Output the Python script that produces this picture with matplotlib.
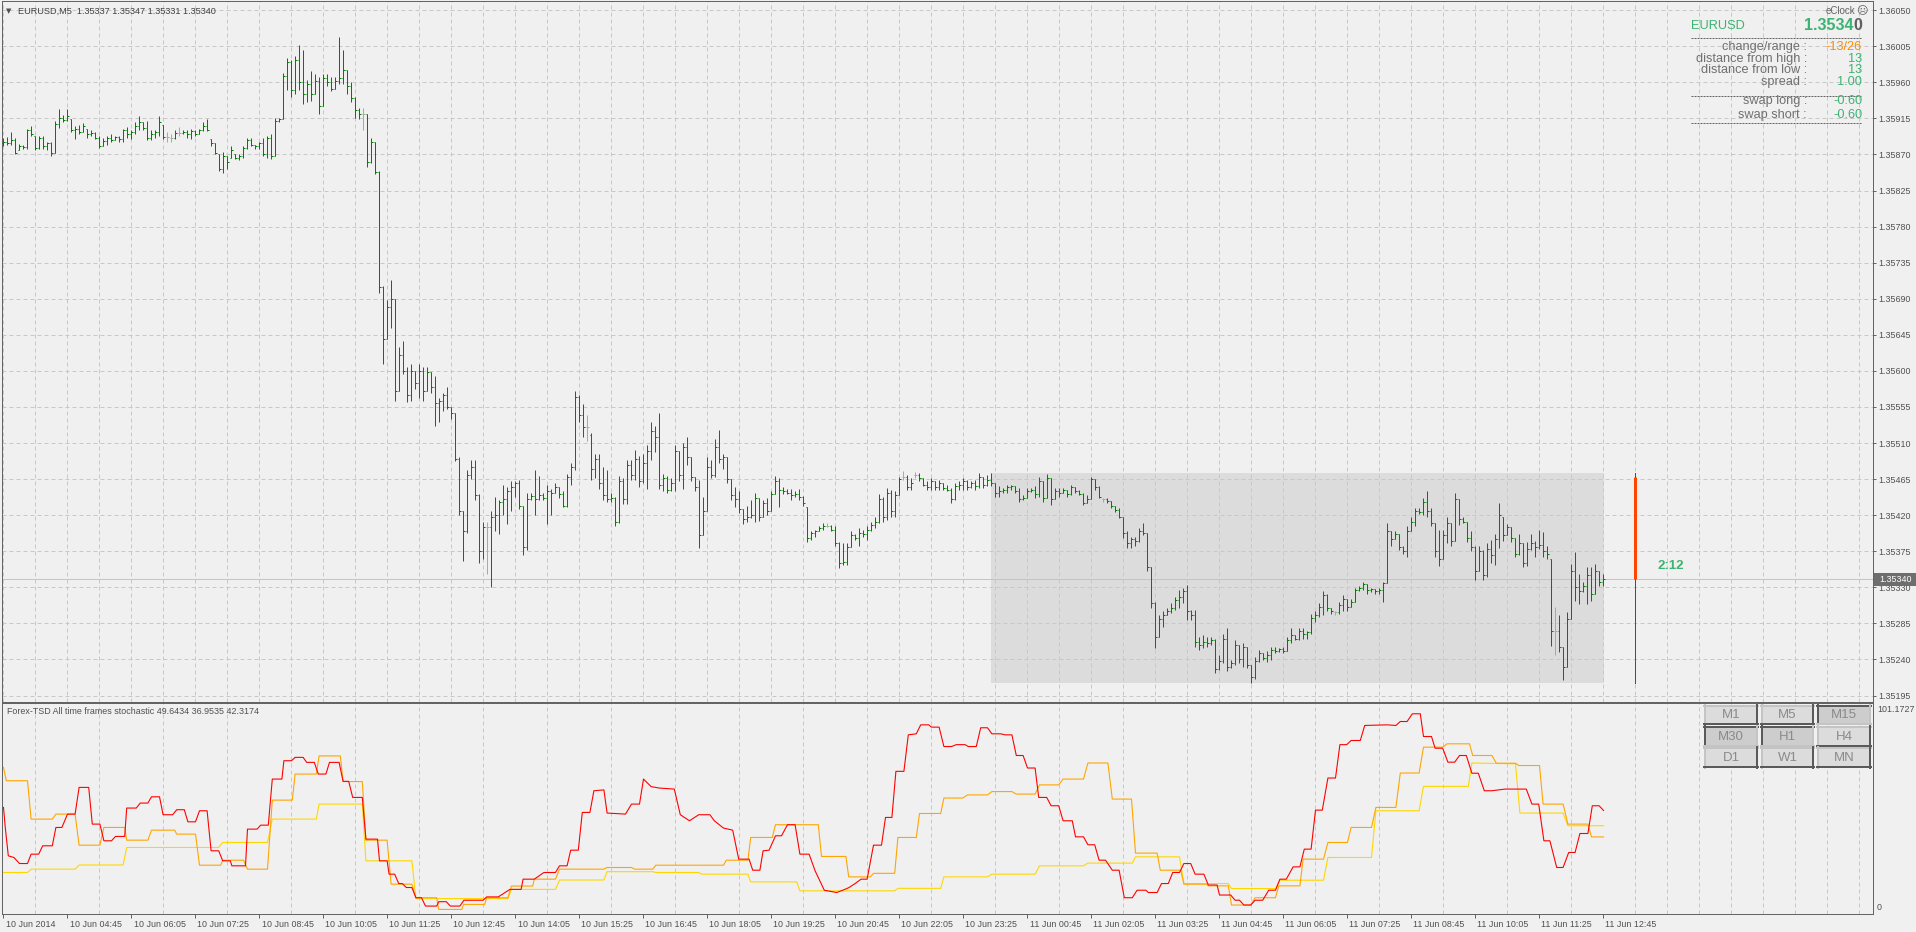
import numpy as np
import matplotlib
matplotlib.use("Agg")
import matplotlib.pyplot as plt
from matplotlib.collections import LineCollection
from matplotlib.patches import Rectangle
from matplotlib.lines import Line2D
import matplotlib.transforms as mtransforms

plt.rcParams['font.family'] = ['Liberation Sans', 'DejaVu Sans']

# ---------------- data ----------------
symbol = "EURUSD,M5"
BASE = 1.35          # prices below are in points above 1.35000
PT = 0.00001

bar_high = [
 891, 892, 898, 891, 883, 882, 902, 906, 893, 893,
 893, 886, 886, 912, 927, 919, 927, 914, 905, 907,
 909, 902, 901, 898, 893, 890, 893, 896, 893, 893,
 902, 904, 900, 910, 918, 910, 912, 900, 901, 918,
 907, 898, 895, 900, 904, 900, 900, 902, 900, 902,
 910, 914, 889, 884, 870, 873, 868, 880, 870, 870,
 880, 891, 891, 882, 886, 891, 893, 896, 915, 916,
 972, 990, 988, 993, 1006, 1000, 963, 974, 970, 967,
 970, 970, 967, 967, 1016, 1000, 975, 960, 942, 928,
 928, 920, 891, 885, 849, 706, 688, 713, 690, 630,
 637, 605, 609, 600, 609, 605, 605, 598, 593, 566,
 573, 580, 555, 548, 492, 425, 476, 489, 489, 446,
 411, 411, 425, 443, 439, 457, 455, 462, 462, 464,
 432, 448, 448, 476, 469, 448, 457, 453, 460, 455,
 450, 471, 485, 575, 570, 559, 545, 522, 496, 496,
 480, 476, 448, 443, 469, 466, 489, 489, 501, 494,
 496, 508, 536, 531, 547, 471, 469, 466, 508, 500,
 510, 517, 492, 468, 464, 443, 492, 489, 515, 526,
 496, 492, 465, 455, 450, 428, 432, 439, 448, 442,
 439, 441, 450, 469, 466, 455, 453, 453, 450, 453,
 444, 430, 400, 402, 406, 410, 410, 408, 406, 387,
 385, 385, 400, 397, 404, 402, 406, 412, 418, 447,
 443, 454, 452, 450, 468, 475, 470, 466, 474, 472,
 466, 462, 466, 462, 464, 460, 458, 454, 460, 462,
 466, 464, 462, 464, 472, 468, 470, 472, 460, 456,
 454, 458, 458, 456, 454, 445, 454, 454, 456, 468,
 462, 471, 466, 454, 454, 454, 452, 458, 455, 452,
 448, 445, 468, 465, 456, 441, 441, 438, 432, 429,
 418, 400, 393, 393, 404, 410, 398, 355, 312, 295,
 300, 304, 310, 318, 327, 329, 333, 302, 302, 268,
 270, 268, 268, 266, 245, 272, 279, 239, 264, 258,
 260, 256, 233, 243, 252, 248, 250, 256, 256, 254,
 256, 268, 279, 270, 279, 279, 275, 297, 300, 310,
 325, 322, 304, 301, 312, 320, 316, 316, 329, 331,
 337, 334, 329, 328, 329, 337, 410, 400, 400, 396,
 381, 406, 418, 429, 429, 441, 450, 429, 410, 402,
 402, 418, 410, 448, 440, 418, 412, 400, 381, 381,
 377, 385, 389, 397, 435, 418, 409, 405, 392, 397,
 385, 386, 397, 388, 401, 399, 382, 365, 305, 295,
 255, 299, 359, 374, 347, 336, 355, 355, 359, 350, 347]

bar_low = [
 880, 882, 882, 870, 875, 877, 877, 893, 875, 877,
 877, 875, 868, 872, 903, 910, 912, 898, 889, 896,
 898, 891, 893, 889, 878, 880, 882, 886, 888, 886,
 886, 891, 889, 896, 901, 900, 888, 888, 890, 893,
 889, 885, 885, 889, 893, 896, 891, 889, 893, 896,
 899, 899, 880, 870, 849, 847, 852, 866, 864, 863,
 866, 877, 880, 877, 877, 868, 866, 864, 868, 911,
 914, 951, 942, 946, 951, 933, 935, 937, 945, 921,
 930, 956, 949, 952, 958, 958, 946, 935, 916, 914,
 900, 854, 859, 845, 697, 609, 640, 653, 563, 575,
 596, 561, 563, 577, 566, 563, 575, 573, 531, 536,
 550, 552, 540, 487, 420, 363, 398, 465, 439, 360,
 365, 346, 330, 400, 397, 420, 409, 425, 443, 428,
 370, 376, 439, 420, 439, 439, 409, 420, 448, 441,
 430, 430, 457, 476, 536, 517, 513, 464, 466, 453,
 439, 436, 436, 406, 410, 434, 434, 464, 464, 455,
 460, 453, 489, 499, 453, 450, 448, 450, 450, 462,
 453, 483, 462, 450, 379, 395, 425, 466, 468, 485,
 478, 460, 439, 430, 423, 409, 411, 416, 411, 413,
 418, 420, 425, 446, 430, 446, 446, 439, 443, 439,
 431, 387, 389, 393, 400, 402, 405, 400, 381, 354,
 358, 358, 380, 389, 381, 393, 389, 400, 404, 410,
 412, 414, 418, 418, 445, 464, 452, 452, 466, 462,
 456, 452, 452, 452, 452, 452, 450, 435, 439, 452,
 452, 452, 454, 452, 454, 454, 456, 456, 443, 443,
 448, 448, 452, 448, 437, 439, 441, 449, 441, 443,
 437, 442, 433, 440, 443, 448, 443, 445, 448, 445,
 433, 435, 440, 452, 441, 437, 435, 429, 424, 416,
 391, 379, 379, 381, 387, 395, 350, 304, 254, 268,
 281, 296, 298, 302, 304, 310, 289, 289, 256, 252,
 254, 256, 258, 223, 227, 236, 225, 229, 233, 235,
 231, 229, 210, 216, 237, 239, 237, 239, 248, 249,
 248, 251, 260, 264, 264, 266, 266, 272, 287, 293,
 296, 300, 297, 295, 297, 300, 300, 305, 312, 325,
 327, 322, 324, 322, 322, 312, 335, 381, 390, 377,
 372, 368, 400, 406, 422, 420, 418, 406, 368, 356,
 365, 385, 381, 388, 408, 410, 387, 375, 339, 350,
 339, 343, 360, 358, 379, 388, 395, 386, 368, 370,
 355, 357, 376, 368, 378, 368, 365, 257, 245, 249,
 214, 230, 290, 313, 309, 324, 309, 313, 322, 332, 331]

bar_open = [
 884, 886, 884, 888, 875, 880, 879, 900, 893, 878,
 890, 880, 884, 872, 908, 915, 913, 914, 900, 902,
 898, 902, 895, 897, 891, 880, 887, 890, 888, 892,
 889, 900, 895, 898, 906, 910, 903, 890, 896, 898,
 907, 892, 890, 890, 897, 897, 898, 895, 899, 896,
 900, 906, 889, 884, 870, 852, 868, 866, 870, 866,
 868, 878, 888, 882, 880, 884, 870, 890, 868, 912,
 914, 968, 985, 950, 988, 960, 945, 958, 945, 962,
 930, 965, 960, 952, 962, 965, 975, 955, 940, 925,
 920, 920, 860, 885, 848, 705, 640, 680, 690, 575,
 620, 600, 570, 600, 585, 600, 575, 598, 580, 560,
 562, 570, 555, 548, 490, 425, 400, 470, 480, 445,
 375, 405, 405, 418, 420, 436, 440, 450, 455, 460,
 432, 380, 440, 444, 440, 445, 442, 450, 448, 455,
 446, 432, 468, 480, 568, 545, 530, 520, 478, 490,
 460, 445, 440, 442, 412, 462, 440, 482, 470, 490,
 462, 485, 500, 525, 518, 458, 466, 452, 460, 500,
 470, 505, 492, 468, 455, 395, 425, 480, 470, 505,
 490, 492, 465, 445, 440, 428, 415, 418, 420, 442,
 418, 435, 425, 446, 462, 452, 450, 448, 445, 447,
 443, 430, 392, 398, 400, 404, 407, 407, 402, 385,
 360, 362, 380, 395, 392, 398, 396, 402, 408, 412,
 440, 418, 448, 425, 445, 468, 468, 455, 470, 470,
 466, 458, 455, 462, 455, 460, 454, 452, 440, 456,
 458, 463, 455, 460, 456, 468, 458, 464, 460, 448,
 450, 452, 455, 456, 450, 440, 442, 450, 452, 446,
 462, 442, 466, 440, 450, 448, 452, 446, 455, 450,
 447, 435, 440, 465, 455, 440, 440, 438, 432, 427,
 418, 398, 385, 390, 388, 400, 398, 355, 310, 268,
 290, 296, 300, 304, 314, 318, 325, 300, 295, 262,
 258, 262, 260, 264, 228, 238, 265, 230, 236, 258,
 240, 255, 233, 218, 238, 248, 242, 246, 252, 250,
 253, 251, 264, 270, 266, 275, 272, 274, 292, 296,
 305, 320, 304, 299, 299, 308, 316, 305, 312, 327,
 329, 334, 326, 328, 325, 327, 335, 400, 390, 396,
 380, 375, 400, 412, 425, 424, 436, 425, 410, 375,
 365, 395, 410, 388, 440, 415, 412, 392, 380, 350,
 375, 345, 378, 370, 390, 418, 395, 405, 392, 372,
 385, 360, 378, 385, 380, 383, 375, 365, 275, 275,
 255, 230, 290, 350, 330, 325, 332, 345, 322, 350, 337]

bar_close = [
 886, 884, 888, 872, 880, 879, 900, 896, 878, 890,
 880, 884, 872, 908, 915, 913, 918, 900, 902, 898,
 905, 895, 897, 891, 880, 887, 890, 888, 892, 889,
 900, 895, 898, 906, 910, 903, 890, 896, 898, 910,
 892, 892, 890, 897, 897, 898, 895, 899, 896, 900,
 906, 900, 884, 872, 852, 868, 860, 875, 866, 868,
 878, 888, 882, 880, 884, 870, 890, 868, 912, 914,
 968, 985, 950, 988, 960, 945, 958, 945, 962, 930,
 965, 960, 952, 962, 965, 975, 955, 940, 925, 920,
 920, 860, 885, 848, 705, 640, 680, 690, 575, 620,
 600, 570, 600, 585, 600, 575, 598, 580, 560, 562,
 570, 555, 548, 490, 425, 400, 470, 480, 445, 375,
 405, 405, 418, 420, 436, 440, 450, 455, 460, 432,
 380, 440, 444, 440, 445, 442, 450, 448, 455, 446,
 432, 468, 480, 568, 545, 530, 530, 478, 490, 460,
 445, 440, 442, 412, 462, 440, 482, 470, 490, 462,
 485, 500, 525, 518, 458, 466, 452, 460, 500, 470,
 505, 492, 468, 455, 395, 425, 480, 470, 505, 490,
 492, 465, 445, 440, 428, 415, 418, 420, 442, 418,
 435, 425, 446, 462, 452, 450, 448, 445, 447, 443,
 435, 392, 398, 400, 404, 407, 407, 402, 385, 360,
 362, 380, 395, 392, 398, 396, 402, 408, 412, 440,
 418, 448, 425, 445, 465, 468, 455, 460, 470, 466,
 458, 455, 462, 455, 460, 454, 452, 440, 456, 458,
 463, 455, 460, 456, 468, 458, 464, 460, 448, 450,
 452, 455, 456, 450, 440, 442, 450, 452, 446, 462,
 442, 466, 440, 450, 448, 452, 446, 455, 450, 447,
 435, 440, 465, 455, 443, 440, 438, 432, 427, 418,
 398, 385, 390, 388, 400, 398, 355, 310, 268, 290,
 296, 300, 304, 314, 318, 325, 300, 295, 262, 258,
 262, 260, 264, 228, 238, 265, 230, 236, 258, 240,
 255, 233, 218, 238, 248, 242, 246, 252, 250, 253,
 251, 264, 270, 266, 275, 272, 274, 292, 296, 305,
 320, 304, 300, 299, 308, 316, 305, 312, 327, 329,
 334, 326, 328, 325, 327, 335, 400, 390, 396, 380,
 375, 400, 412, 425, 424, 436, 425, 410, 375, 365,
 395, 410, 388, 440, 415, 412, 392, 380, 350, 375,
 345, 378, 370, 390, 420, 395, 405, 392, 372, 385,
 360, 378, 385, 380, 383, 375, 372, 275, 275, 255,
 230, 290, 350, 330, 325, 332, 345, 322, 350, 337, 340]

# price-axis tick labels
price_ticks = [1.35195, 1.35240, 1.35285, 1.35330, 1.35375, 1.35420, 1.35465,
               1.35510, 1.35555, 1.35600, 1.35645, 1.35690, 1.35735, 1.35780,
               1.35825, 1.35870, 1.35915, 1.35960, 1.36005, 1.36050]
# time-axis labels (every 16 bars)
time_labels = ['10 Jun 2014', '10 Jun 04:45', '10 Jun 06:05', '10 Jun 07:25',
               '10 Jun 08:45', '10 Jun 10:05', '10 Jun 11:25', '10 Jun 12:45',
               '10 Jun 14:05', '10 Jun 15:25', '10 Jun 16:45', '10 Jun 18:05',
               '10 Jun 19:25', '10 Jun 20:45', '10 Jun 22:05', '10 Jun 23:25',
               '11 Jun 00:45', '11 Jun 02:05', '11 Jun 03:25', '11 Jun 04:45',
               '11 Jun 06:05', '11 Jun 07:25', '11 Jun 08:45', '11 Jun 10:05',
               '11 Jun 11:25', '11 Jun 12:45']

bid_price = 1.35340
range_box = (247, 400, 1.35210, 1.35472)   # first bar, last bar, low, high
clock_bar = (408, 1.35210, 1.35472, 1.35340, 1.35468)
clock_text = "2:12"

# stochastic lines (bar index, value)
stoch_red = [
 (0,51.1),(0.4,42.3),(1.2,27.9),(2.6,27.1),(4,24.2),(6,24.2),(6.9,28.7),(8.8,28.7),(9.8,32.7),(12.2,32.7),
 (13.1,41.5),(14.6,41.5),(16,47.9),(17.9,47.9),(18.9,60.7),(21.3,60.7),(22.2,43.1),(24.1,43.1),(25.1,35.1),(27,35.1),
 (28,37.2),(30.3,37.2),(30.8,50.8),(33.2,50.8),(34.2,53.2),(36.1,53.2),(37,56.2),(39,56.2),(39.9,47.6),(42.3,47.6),
 (43.3,50),(45.2,50),(46.1,44.2),(48,44.2),(49,49.5),(50.9,49.5),(51.9,30.3),(53.8,30.3),(54.8,25.5),(56.7,25.5),
 (57.1,23.1),(60.5,23.1),(61,40.7),(63.4,40.7),(64.3,42.6),(66.2,42.6),(67.2,64.7),(69.6,64.7),(70.1,73.5),(72,73.5),
 (72.9,75.1),(74.9,75.1),(75.8,72.7),(77.7,72.7),(78.7,67.1),(80.6,67.1),(81.5,72.7),(83.9,72.7),(84.9,63.6),(86.3,63.6),
 (87.3,55.9),(89.7,55.9),(90.6,35.9),(93.5,35.9),(94,25.5),(95.9,25.5),(96.4,19.1),(97.8,19.1),(98.8,14.6),(99.7,14.6),
 (100.7,12.7),(102.1,12.7),(103.1,7.8),(104.5,7.8),(105.5,3.8),(108.3,3.8),(108.8,5.9),(110.7,5.9),(111.7,3.8),(114.1,3.8),
 (115.1,6.6),(119.9,6.6),(120.8,8.2),(123.7,8.2),(126.6,11.8),(129.4,11.8),(129.9,16.7),(132.7,16.7),(135.1,19.9),(138,19.9),
 (139,23.1),(140.9,23.1),(141.8,30.6),(143.7,30.6),(144.7,48.7),(146.6,48.7),(147.6,59.1),(150.1,59.5),(150.9,48.4),(155.5,47.9),
 (157,52.7),(159,52.7),(160,64.7),(161.9,61.1),(163.9,60.4),(167.7,59.9),(169.2,47.6),(171.5,44.7),(173.8,47.6),(176.6,47.6),
 (177.7,44.7),(180,41.2),(182.3,40.2),(183.8,26.3),(186.4,26.3),(187.3,21),(189.1,21),(189.9,30.3),(191.4,30.6),(193,37.5),
 (194.5,37.5),(196,42.8),(197.9,42.8),(199.1,28.7),(201.4,28.7),(202.9,20.7),(205.2,11.4),(208.3,10.3),(209.8,11.4),(211.3,12.6),
 (212.9,14.6),(214.4,16.7),(215.9,16.7),(217.5,33),(219.5,33),(220.5,46.3),(222.1,46.3),(223.1,68.4),(225.1,68.4),(226.2,85.9),
 (228.2,86.4),(229.3,90.7),(231.3,90.7),(232,89.6),(233.9,89.6),(235.1,80.3),(237,80.3),(238.2,81.2),(240.4,81.2),(241.2,80.3),
 (243.2,80.3),(244.3,89.3),(246,89.3),(247.1,86.4),(249.3,86.4),(250.4,85.9),(252.1,85.9),(253.2,76),(254.9,76),(256,70),
 (257.9,70),(258.8,55.9),(260.8,55.9),(261.9,51.9),(263.8,51.9),(264.9,44.7),(267.2,44.7),(268,37),(270,37),(271.1,33.2),
 (272.8,33.2),(273.9,25.8),(275.5,25.8),(277.2,21),(278.9,21),(280.2,7.8),(282.2,7.8),(283.4,11.4),(285.6,11.4),(286.2,10.3),
 (288.4,10.3),(289.5,14.6),(291.2,14.6),(292.3,19.9),(294,19.9),(295.1,24.2),(296.8,24.2),(297.9,19.1),(300.1,19.1),(301.2,13.9),
 (303.4,13.9),(304,9.1),(306.8,9.1),(307.9,6.6),(309,6.6),(310.1,4.3),(311.8,4.3),(312.9,6.6),(314.8,6.6),(316.3,11.4),
 (318,11.4),(319.1,16.7),(320.7,16.7),(322.4,22.6),(324.1,22.6),(325.2,31.1),(326.9,31.1),(328,49.8),(329.7,49.8),(331.1,65.2),
 (333,65.2),(334.1,81.2),(335.8,81.2),(336.9,83.2),(339.2,83.2),(340.3,90.4),(345.9,90.7),(348.1,90.4),(349.2,92.3),(350.9,92.3),
 (352.2,96),(354.2,96),(355,85.1),(357,85.1),(357.9,79.5),(359.8,79.5),(361.1,72.8),(362.8,72.8),(364,76),(365.7,76),
 (367.1,67.5),(368.7,67.5),(370.2,59.1),(372.1,59.1),(375.4,59.9),(380.7,59.9),(382.1,52.7),(383.8,52.7),(385.1,35.1),(386.6,35.1),
 (388.3,22.3),(389.9,22.3),(391.3,29.5),(392.9,29.5),(394.1,38.6),(396.1,38.6),(397.2,51.9),(398.9,51.9),(400,49.6434)]

stoch_orange = [
 (0,70.3),(0.7,63.9),(6,63.9),(6.9,45.5),(12.2,45.5),(13.1,47.9),(17.9,47.9),(18.9,33),(24.1,33),(25.1,41.5),
 (30.3,41.5),(30.8,35.4),(36.1,35.4),(37,40.2),(42.8,40.2),(43.3,38.3),(48,38.3),(49,23.4),(54.3,23.4),(54.8,25.8),
 (60,25.8),(61,21.5),(66,21.5),(67.2,54.6),(72.2,54.6),(72.9,67.1),(78.2,67.1),(78.9,75.8),(84.2,75.8),(84.9,63.5),
 (89.7,63.5),(90.6,35.4),(95.9,35.4),(96.9,14.3),(102.1,14.3),(103.1,7.8),(108.3,7.8),(108.8,2.2),(114.6,2.2),(115,4.6),
 (120.3,4.6),(120.8,7.8),(126.1,7.8),(127,13.4),(132.3,13.4),(132.7,16.7),(138,16.7),(139,21.5),(150,21.5),(150.9,22.3),
 (157,22.3),(157.8,21.5),(162.3,21.5),(163.1,23.4),(180,23.4),(180.7,25.8),(186.1,25.8),(186.8,36.7),(192.2,36.7),(193,42.8),
 (203.7,42.8),(204.5,27.6),(210.6,27.6),(211.3,17.8),(216.7,17.8),(217.5,19.5),(222.8,19.5),(223.6,36.7),(228.2,36.7),(229,48.2),
 (234.3,48.2),(235.1,55.6),(239.8,55.6),(241,57.1),(246,57.1),(247.1,58.7),(252.1,58.7),(253.2,57.5),(257.9,57.5),(259,61.9),
 (263.8,61.9),(264.9,64.7),(270,64.7),(271.1,72.4),(276.1,72.4),(277.2,55.1),(282,55.1),(283,29.2),(288.4,29.2),(289.2,21),
 (294.3,21),(295.1,14.3),(300.7,14.3),(301.2,13.5),(306.2,13.5),(307,4.3),(311.8,4.3),(312.9,7.8),(318,7.8),(318.8,13.5),
 (324.1,13.5),(324.9,26.3),(330,26.3),(331.1,34.3),(336,34.3),(336.9,41.5),(342,41.5),(343.1,51.1),(348.1,51.1),(349.2,67.6),
 (353.9,67.6),(355,80),(359.8,80),(360.9,81.6),(366.5,81.6),(367.3,76),(372.1,76),(373.2,72.3),(378,72.3),(378.8,71.2),
 (384,71.2),(384.9,52.7),(389.9,52.7),(391.1,43.1),(396.1,43.1),(397,36.9535),(400,36.9535)]

stoch_yellow = [
 (0,19.9),(6,19.9),(6.9,21.5),(17.9,21.5),(18.9,23.5),(29.9,23.5),(30.8,31.9),(53.8,31.9),(54.8,34.3),(66,34.3),
 (67.2,45.5),(78.2,45.5),(78.9,52.7),(89.7,52.7),(90.6,25.5),(102.1,25.5),(103.1,7.4),(126.1,7.4),(127,11.8),(138,11.8),
 (139,16.3),(150.1,16.3),(150.9,20.3),(162.3,20.3),(163.1,19.9),(173.8,19.9),(174.6,19.1),(186.1,19.1),(186.8,15.4),(198.3,15.4),
 (199.1,11.1),(222.8,11.1),(223.6,12.3),(234.3,12.3),(235.1,17.8),(246,17.8),(247.1,19.1),(257.9,19.1),(259,23.1),(270,23.1),
 (271.1,24.4),(282.2,24.4),(283,27.4),(294,27.4),(295.1,14.6),(306.2,14.6),(307,12.2),(318,12.2),(319.1,16.2),(330,16.2),
 (331.1,27.1),(342,27.1),(343.1,49.5),(353.9,49.5),(355,61.2),(366.2,61.2),(367.1,72.4),(378,72),(379.1,48.4),(389.9,48.4),
 (391.1,42.3174),(400,42.3174)]
stoch_max = 101.1727

info_labels = ['change/range', 'distance from high', 'distance from low', 'spread', 'swap long', 'swap short']
info_values = ['-13/26', '13', '13', '1.00', '-0.60', '-0.60']
tf_buttons = [['M1', 'M5', 'M15'], ['M30', 'H1', 'H4'], ['D1', 'W1', 'MN']]
tf_pressed = [[False, False, True], [True, True, False], [False, False, False]]

# ---------------- layout ----------------
W, H, DPI = 1916, 932, 100
PX = 72.0 / DPI        # points per pixel
BG = '#f0f0f0'
GRID = '#c8c8c8'
FRAME = '#646464'
TXT = '#505050'
GREEN = '#3cb371'

fig = plt.figure(figsize=(W / DPI, H / DPI), dpi=DPI, facecolor=BG)

def fx(x):
    return x / W

def fy(y):
    return 1 - y / H

PL, PR = 2, 1873
MAIN_T, MAIN_B = 1, 702
SUB_T, SUB_B = 703, 914
X0, BAR_PX = 3.5, 4.0
REF_P, REF_Y, PX_PER_PRICE = 1.35195, 695.5, 36.07 / 0.00045

ax = fig.add_axes([fx(PL), fy(MAIN_B), (PR - PL) / W, (MAIN_B - MAIN_T) / H], facecolor=BG)
sx = fig.add_axes([fx(PL), fy(SUB_B), (PR - PL) / W, (SUB_B - SUB_T) / H], facecolor=BG)

xlim = ((PL - X0) / BAR_PX, (PR - X0) / BAR_PX)
for a in (ax, sx):
    a.set_xlim(*xlim)
    for s in a.spines.values():
        s.set_color(FRAME)
        s.set_linewidth(1.0 * PX)
    a.set_axisbelow(True)

ax.set_ylim(REF_P - (MAIN_B - REF_Y) / PX_PER_PRICE, REF_P + (REF_Y - MAIN_T) / PX_PER_PRICE)
sx.set_ylim(0, stoch_max)

grid_kw = dict(color=GRID, linewidth=1.0 * PX, linestyle=(0, (4, 3)))
grid_x = np.arange(0, 468, 8)

# main chart axes / grid
ax.set_xticks(grid_x)
ax.tick_params(axis='x', length=0, labelbottom=False)
ax.yaxis.tick_right()
ax.set_yticks(price_ticks)
ax.set_yticklabels(['%.5f' % p for p in price_ticks])
ax.tick_params(axis='y', length=3 * PX, width=1.0 * PX, color=FRAME, pad=2.5 * PX,
               labelsize=6.4, labelcolor=TXT)
ax.grid(True, axis='both', **grid_kw)

# indicator axes / grid
sx.set_xticks(grid_x, minor=True)
sx.set_xticks(np.arange(0, 16 * len(time_labels), 16))
sx.set_xticklabels(time_labels)
sx.tick_params(axis='x', which='major', length=4 * PX, width=1.0 * PX, color=FRAME, pad=1.5,
               labelsize=6.4, labelcolor=TXT)
sx.tick_params(axis='x', which='minor', length=0)
shift = mtransforms.ScaledTranslation(2 / DPI, 0, fig.dpi_scale_trans)
for lab in sx.get_xticklabels():
    lab.set_horizontalalignment('left')
    lab.set_transform(lab.get_transform() + shift)
sx.set_yticks([])
sx.grid(True, axis='x', which='minor', **grid_kw)

# range box
b0, b1, rlo, rhi = range_box
ax.add_patch(Rectangle((b0 - 0.125, rlo), b1 - b0 + 0.25, rhi - rlo, facecolor='#dcdcdc',
                       edgecolor='none', zorder=0.2))

# bid line
ax.axhline(bid_price, color='#c4c4c4', linewidth=1.0 * PX, zorder=1)

# OHLC bars
o = BASE + np.array(bar_open) * PT
h = BASE + np.array(bar_high) * PT
l = BASE + np.array(bar_low) * PT
c = BASE + np.array(bar_close) * PT
segs, cols = [], []
for i in range(len(o)):
    col = '#a8a8a8' if bar_open[i] == bar_close[i] else '#008000'
    segs += [[(i, l[i]), (i, h[i])], [(i - 0.3, o[i]), (i, o[i])], [(i, c[i]), (i + 0.3, c[i])]]
    cols += [col, col, col]
ax.add_collection(LineCollection(segs, colors=cols, linewidths=1.0 * PX, zorder=3))

# clock bar + text
ci, clo, chi, cb0, cb1 = clock_bar
ax.plot([ci, ci], [clo, chi], color='#c8143c', linewidth=1.0 * PX, zorder=3)
ax.plot([ci, ci], [cb0, cb1], color='#ff4500', linewidth=3.0 * PX, zorder=4,
        solid_capstyle='butt')
ax.text(ci + 5.5, (bid_price + 0.00001 * 17), clock_text, color=GREEN, fontsize=9.5,
        fontweight='bold', ha='left', va='center', zorder=5)

# stochastic lines
for pts, col in ((stoch_yellow, '#ffd700'), (stoch_orange, '#ffa500'), (stoch_red, '#ff0000')):
    xs, vs = zip(*pts)
    sx.plot(xs, vs, color=col, linewidth=1.1 * PX, zorder=3)

# ---------------- texts ----------------
lo, hi, llo, lc_ = bar_open[-1], bar_high[-1], bar_low[-1], bar_close[-1]
title = "%s  %.5f %.5f %.5f %.5f" % (symbol, BASE + lo * PT, BASE + hi * PT, BASE + llo * PT, BASE + lc_ * PT)
fig.text(fx(18), fy(11), title, fontsize=6.6, color='#404040', ha='left', va='center')
fig.text(fx(9), fy(11), '\u25bc', fontsize=5, color='#505050', ha='center', va='center',
         family=['DejaVu Sans'])

sub_title = "Forex-TSD All time frames stochastic %.4f %.4f %.4f" % (
    stoch_red[-1][1], stoch_orange[-1][1], stoch_yellow[-1][1])
fig.text(fx(7), fy(712), sub_title, fontsize=6.4, color=TXT, ha='left', va='center')
fig.text(fx(1877), fy(709), '%.4f' % stoch_max, fontsize=6.4, color=TXT, ha='left', va='center')
fig.text(fx(1877), fy(907), '0', fontsize=6.4, color=TXT, ha='left', va='center')

# bid price box on the price axis
yb = ax.transData.transform((0, bid_price))[1]
fig.add_artist(Rectangle((fx(1874), (yb - 6.5) / H), 42 / W, 13 / H, transform=fig.transFigure,
                         facecolor='#6e6e6e', edgecolor='none', zorder=10))
fig.text(fx(1879), yb / H, '%.5f' % bid_price, fontsize=6.4, color='white', ha='left',
         va='center', zorder=11)

# info panel (eClock)
def hline(x0, x1, y, color, ls='-', lw=1.0):
    fig.add_artist(Line2D([fx(x0), fx(x1)], [fy(y), fy(y)], transform=fig.transFigure,
                          color=color, linewidth=lw * PX, linestyle=ls))

fig.text(fx(1855), fy(11), 'eClock', fontsize=7, color='#646464', ha='right', va='center')
fig.text(fx(1862), fy(11), '\u2639', fontsize=8, color='#646464', ha='center', va='center',
         family=['DejaVu Sans'])
fig.text(fx(1691), fy(26), 'EURUSD', fontsize=9.2, color=GREEN, ha='left', va='center')
fig.text(fx(1862), fy(26), '0', fontsize=11.5, fontweight='bold', color='#606060',
         ha='right', va='center')
fig.text(fx(1853.5), fy(26), '1.3534', fontsize=11.5, fontweight='bold', color=GREEN,
         ha='right', va='center')
hline(1691, 1862, 38, '#646464', ls=(0, (2, 1)))
hline(1691, 1862, 96, '#646464', ls=(0, (2, 1)))
hline(1691, 1862, 123, '#646464', ls=(0, (2, 1)))
info_y = [47, 59, 70, 82, 101, 115]
for lab, val, yy in zip(info_labels, info_values, info_y):
    fig.text(fx(1807), fy(yy), lab + ' :', fontsize=9.2, color='#707070', ha='right', va='center')
    vcol = '#ff8c00' if '/' in val else GREEN
    fig.text(fx(1862), fy(yy), val, fontsize=9.2, color=vcol, ha='right', va='center')

# timeframe buttons
bcols = [(1704, 1758), (1761, 1814), (1817, 1871)]
brows = [(705, 725), (726, 747), (747, 768)]
for r, (y0, y1) in enumerate(brows):
    for k, (x0, x1) in enumerate(bcols):
        pressed = tf_pressed[r][k]
        fill = '#cdcdcd' if pressed else '#dcdcdc'
        dark, light = '#5a5a5a', '#c4c4c4'
        tl = dark if pressed else light
        br = light if pressed else dark
        fig.add_artist(Rectangle((fx(x0), fy(y1)), (x1 - x0) / W, (y1 - y0) / H,
                                 transform=fig.transFigure, facecolor=fill, edgecolor='none'))
        hline(x0, x1, y0 + 1, tl, lw=2)
        fig.add_artist(Line2D([fx(x0 + 1), fx(x0 + 1)], [fy(y0), fy(y1)], transform=fig.transFigure,
                              color=tl, linewidth=2 * PX))
        hline(x0, x1, y1 - 1, br, lw=2)
        fig.add_artist(Line2D([fx(x1 - 1), fx(x1 - 1)], [fy(y0), fy(y1)], transform=fig.transFigure,
                              color=br, linewidth=2 * PX))
        fig.text(fx((x0 + x1) / 2), fy((y0 + y1) / 2 + 0.5), tf_buttons[r][k], fontsize=9.5,
                 color='#8a8a8a', ha='center', va='center')

fig.savefig('out.png', dpi=DPI, facecolor=BG)
